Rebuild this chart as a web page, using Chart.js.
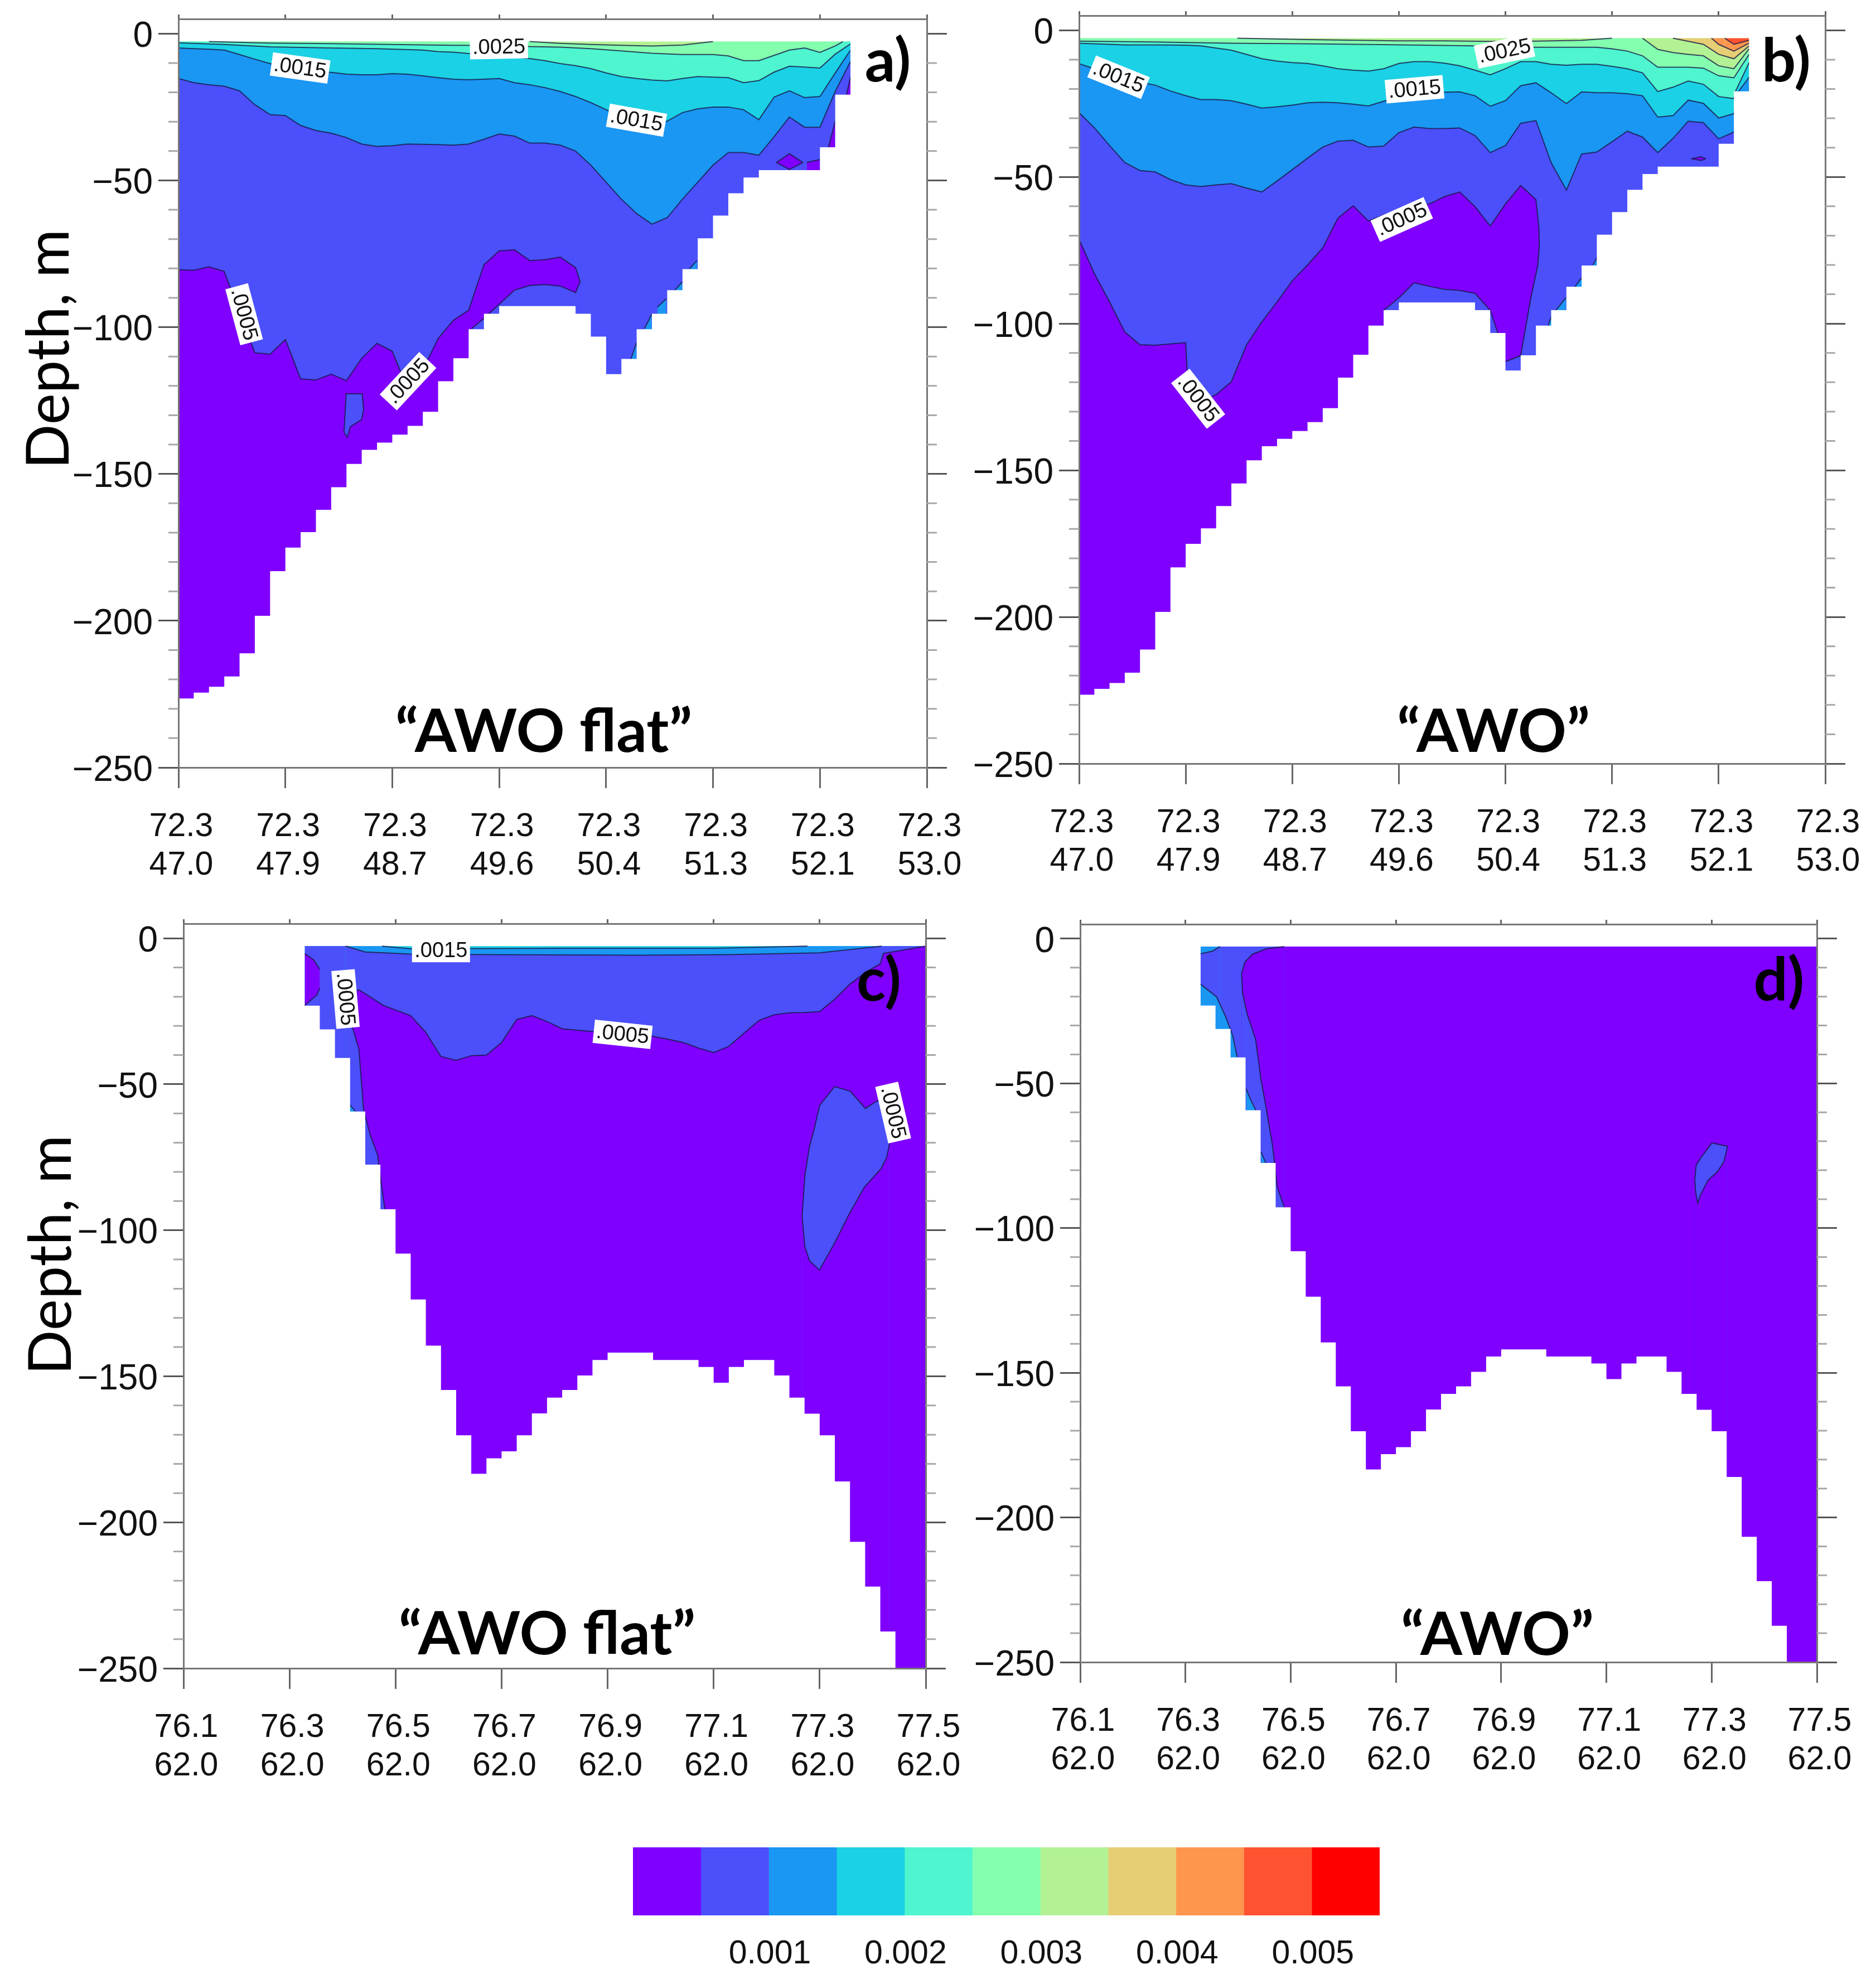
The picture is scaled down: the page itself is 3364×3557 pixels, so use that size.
<!DOCTYPE html>
<html>
<head>
<meta charset="utf-8">
<title>AWO sections</title>
<script src="https://cdn.jsdelivr.net/npm/chart.js@4/dist/chart.umd.js"></script>
<style>
  html, body { margin: 0; background: #fff; }
  #page { position: relative; width: 3364px; height: 3557px; overflow: hidden; background: #fff; }
  canvas { position: absolute; }
  .txt { position: absolute; transform: translate(-50%, -50%); white-space: nowrap; color: #000; font-family: Lato, sans-serif; }
  .txt.bold { font-weight: 700; font-size: 108px; }
  .txt.depth { font-size: 106px; transform: translate(-50%, -50%) rotate(-90deg); }
</style>
</head>
<body>
<div id="page"></div>
<script>
// all depths in metres, x = grid column along the section (49 columns, 7 per labelled tick)
const SURFACE = -2.7;
const bandColors = ["#7f00ff", "#4b50fb", "#1a96f3", "#1bd1e5", "#4ef5cf", "#84ffb0", "#b3f294", "#e5ce74", "#ff964f", "#ff5230", "#ff0000"];

const yMajorTicks = [0, -50, -100, -150, -200, -250];
const yMinorTicks = [-10, -20, -30, -40, -60, -70, -80, -90, -110, -120, -130, -140, -160, -170, -180, -190, -210, -220, -230, -240];
const columnTicks = [0, 7, 14, 21, 28, 35, 42, 49];
const latTicksAB = ["72.3", "72.3", "72.3", "72.3", "72.3", "72.3", "72.3", "72.3"];
const lonTicksAB = ["47.0", "47.9", "48.7", "49.6", "50.4", "51.3", "52.1", "53.0"];
const latTicksCD = ["76.1", "76.3", "76.5", "76.7", "76.9", "77.1", "77.3", "77.5"];
const lonTicksCD = ["62.0", "62.0", "62.0", "62.0", "62.0", "62.0", "62.0", "62.0"];
const colorbarTicks = [0.001, 0.002, 0.003, 0.004, 0.005];
const colorbarBand = 0.0005;

const bathyAB = [-226.5, -224.5, -222.5, -219, -211.1, -198.3, -183.1, -175.1, -169.8, -162.2, -154.5, -146.6, -141.8, -139.3, -136.6, -133.6, -128.8, -118.4, -110.6, -100.7, -95.4, -92.8, -92.8, -92.8, -92.8, -92.8, -95.4, -103.2, -116, -110.8, -100.7, -95.4, -87.4, -80.2, -69.7, -62, -54.4, -49, -46.5, -46.5, -46.5, -46.5, -38.7, -20.8, SURFACE, SURFACE, SURFACE, SURFACE, SURFACE];
const bathyCD = [SURFACE, SURFACE, SURFACE, SURFACE, SURFACE, SURFACE, SURFACE, SURFACE, -23.1, -31.2, -41, -59.3, -77.5, -92.8, -108, -123.7, -139.5, -154.7, -170.2, -183.4, -178.1, -175.7, -170.2, -162.7, -157.3, -154.7, -149.7, -144.4, -141.9, -141.9, -141.9, -144.4, -144.4, -144.4, -146.8, -152.2, -146.8, -144.4, -144.4, -149.7, -157.3, -162.8, -170.2, -186, -206.7, -222, -237.4, -250, -250];

// panel a
const aSurface = [[0, SURFACE], [44, SURFACE]];
const a003 = [[0, SURFACE], [23, SURFACE], [25, -3.3], [27, -3.7], [29, -4], [31, -4.2], [33, -3.9], [35, SURFACE], [44, SURFACE]];
const a0025 = [[0, SURFACE], [2, SURFACE], [6, -3.2], [10, -3.4], [14, -3.7], [18, -4], [20, -4], [23, -4.4], [25, -4.6], [27, -5.1], [29, -5.9], [31, -6.7], [33, -7.1], [35, -7.1], [36, -7.6], [37, -9.2], [38, -9.2], [39, -7.4], [40, -5.6], [41, -4.9], [42, -6.4], [43, -4.2], [43.5, SURFACE], [44, SURFACE]];
const a002 = [[0, -3.1], [3, -3.7], [6, -4.5], [10, -4.9], [13, -5.1], [16, -5.6], [17, -6.1], [18, -6.3], [19, -6.8], [20, -7.3], [21, -7.7], [22, -8], [23, -8.5], [24, -9.2], [25, -10.2], [26, -10.9], [27, -11.9], [28, -13.4], [29, -14.6], [30, -15.3], [31, -15.8], [32, -16.1], [33, -15.3], [34, -14.6], [35, -14.8], [36, -15], [37, -16.7], [38, -16], [39, -13.1], [40, -11.1], [41, -11.4], [42, -11.7], [43, -7], [44, -3.5]];
const a0015 = [[0, -4.9], [1, -5.1], [2, -5.3], [3, -5.6], [4, -7.1], [5, -8.7], [6, -10.2], [7, -11.4], [8, -12.4], [9, -12.9], [10, -13.2], [11, -13.8], [12, -14], [13, -14], [14, -13.6], [15, -13.8], [16, -14.4], [17, -15], [18, -15.5], [19, -15.7], [20, -15.5], [21, -15.3], [22, -16.7], [23, -17.4], [24, -18.4], [25, -19.7], [26, -21.4], [27, -23.5], [28, -25.9], [29, -28.4], [30, -30.8], [31, -31.3], [32, -29.8], [33, -26.9], [34, -25.6], [35, -25], [36, -25], [37, -25.9], [38, -29.3], [39, -21.6], [40, -19.5], [41, -21.8], [42, -21.4], [43, -13.4], [44, -5.6]];
const a001 = [[0, -15.3], [1, -16.7], [2, -17.4], [3, -17.9], [4, -19.5], [5, -24.2], [6, -27.6], [7, -27.9], [8, -31.3], [9, -33], [10, -33.9], [11, -35.4], [12, -37.6], [13, -38.4], [14, -38.2], [15, -37.6], [16, -37.7], [17, -37.8], [18, -38], [19, -37.6], [20, -36], [21, -34.2], [22, -34.9], [23, -37.3], [24, -37.3], [25, -38], [26, -40], [27, -44.8], [28, -50.6], [29, -56.4], [30, -61.3], [31, -64.9], [32, -62.7], [33, -56.4], [34, -50.6], [35, -44.8], [36, -40.5], [37, -40.5], [38, -41.4], [39, -35.1], [40, -28.4], [41, -31.9], [42, -31.9], [43, -19.7], [44, -9.5]];
const a0005 = [[0, -80.4], [1, -80.6], [2, -79.4], [3, -81], [4, -95], [5, -108.7], [6, -109.2], [7, -104.2], [8, -117.6], [9, -118], [10, -116], [11, -118.2], [12, -110.6], [13, -105.5], [14, -108.2], [15, -121], [16, -114.5], [17, -103.9], [18, -97.6], [19, -94.2], [20, -78.7], [21, -74], [22, -73.6], [23, -77.3], [24, -77], [25, -76.1], [26, -79.7], [26.3, -84.5]];
const aLobeUnder = [[19.2, -100.5], [20, -97], [21, -92.2], [22, -87.4], [23, -85.8], [24, -85.5], [25, -86], [26, -88.2], [26.3, -84.5]];
const aPocketTop = [[10.84, -135.8], [10.98, -122.7], [12.03, -122.7], [12.12, -128]];
const aPocketBottom = [[10.84, -135.8], [11.05, -137.5], [11.26, -133.9], [11.99, -131.5], [12.12, -128]];
const aDiamondTop = [[39.15, -43.9], [40, -40.9], [40.88, -43.9]];
const aDiamondBottom = [[39.15, -43.9], [40, -46.3], [40.88, -43.9]];
const aPatches = [[[41.14, -43.9], [42, -42.9]], [[42.56, -38.7], [43, -29.8]], [[43.74, -20.8], [44, -14.8]]];
const aSlivers = [[[29.63, -110.8], [29.99, -105.3]], [[30.51, -100.5], [30.99, -95.6]], [[31.35, -93.2], [31.94, -90.3]], [[32.5, -87.4], [33, -84.5]], [[33.45, -80.2], [33.95, -77.3]]];

// panel b
const bSurface = [[0, SURFACE], [44, SURFACE]];
const bRedCap = [[42.4, SURFACE], [44, SURFACE]];
const b0045 = [[41.53, SURFACE], [42.4, SURFACE], [43, -4.8], [44, -3.4]];
const b004 = [[39, SURFACE], [41.53, SURFACE], [42, -4.8], [43, -7.1], [44, -4.4]];
const b0035 = [[37, SURFACE], [39, SURFACE], [41, -4.8], [42, -8.2], [43, -9.7], [44, -5.3]];
const b003 = [[0, SURFACE], [10.4, SURFACE], [15, -3.2], [21, -3.6], [24, -3.6], [27, -3.8], [30, -3.7], [33, -3.4], [35, SURFACE], [37, SURFACE], [38, -6.5], [39, -7.6], [40, -8.2], [41, -8.7], [42, -12.1], [43, -13.1], [44, -6.3]];
const b0025 = [[0, -3.7], [5, -4], [10, -4.4], [15, -4.6], [20, -4.9], [26, -5.3], [30, -5.8], [33, -5.8], [34, -5.8], [35, -6.3], [36, -7.1], [37, -8.7], [38, -12.6], [39, -12.6], [40, -12.6], [41, -12.9], [42, -15.5], [43, -16.2], [44, -8.2]];
const b002 = [[0, -4.4], [3, -5], [5, -5], [7, -5.1], [8, -5.3], [10, -6.8], [11, -8.2], [12, -9.7], [13, -10.5], [14, -11], [15, -11.3], [16, -12.1], [17, -13.1], [18, -13.6], [19, -13.9], [20, -13.1], [21, -11.3], [22, -10.7], [23, -10.7], [24, -11.2], [25, -12.1], [26, -13.6], [27, -15.2], [28, -13.1], [29, -10.7], [30, -10.7], [31, -11.6], [32, -11.9], [33, -11.6], [34, -11.6], [35, -12.3], [36, -13.1], [37, -14.5], [38, -20.9], [39, -19.4], [40, -17.3], [41, -18.4], [42, -22.6], [43, -23.3], [43.1, -20.9], [44, -11]];
const b0015 = [[0, -11.4], [1, -13.1], [2, -15.5], [3, -17], [4, -17.7], [5, -18.7], [6, -20.7], [7, -22.3], [8, -23.6], [9, -23.6], [10, -24], [11, -25.2], [12, -26.5], [13, -26.1], [14, -25.5], [15, -24.7], [16, -24.5], [17, -24.7], [18, -25.2], [19, -25.8], [20, -24.2], [21, -22.8], [22, -21.3], [23, -21.3], [24, -21.1], [25, -21], [26, -22.3], [27, -25.9], [28, -24], [29, -18.9], [30, -17.9], [31, -21.3], [32, -25], [33, -21], [34, -21.3], [35, -21.3], [36, -21.6], [37, -22.3], [38, -29.6], [39, -29.1], [40, -23.8], [41, -24.9], [42, -29.9], [43, -28.4], [43.3, -20.9], [44, -16]];
const b001 = [[0, -28.1], [1, -33.2], [2, -39.3], [3, -45.1], [4, -47.8], [5, -48.3], [6, -50.9], [7, -52.7], [8, -53.3], [9, -52.7], [10, -52.3], [11, -53.8], [12, -55.1], [13, -51.4], [14, -47.5], [15, -43.6], [16, -39.8], [17, -37.8], [18, -37.5], [19, -39.8], [20, -39.5], [21, -34.9], [22, -33], [23, -33.5], [24, -33.5], [25, -33.3], [26, -35.9], [27, -41.7], [28, -39.3], [29, -31.7], [30, -30.8], [31, -45.1], [32, -54.5], [33, -42.2], [34, -41.5], [35, -38], [36, -34.4], [37, -36.4], [38, -41.7], [39, -36.9], [40, -31], [41, -31.5], [42, -37], [43, -34.7], [44, -34.7]];
const b0005 = [[0, -71.3], [1, -82.9], [2, -92.6], [3, -102.8], [4, -107.2], [5, -107.4], [6, -106.9], [7, -106.5], [7.1, -116.9], [8, -123.7], [8.67, -125], [9, -124.2], [10, -119.8], [11, -107.2], [12, -99.4], [13, -92.6], [14, -85.4], [15, -80], [16, -74.2], [17, -64], [18, -59.8], [19, -65], [20, -63], [21, -61.1], [22, -60.1], [23, -59.2], [24, -56.7], [25, -55.1], [26, -60.1], [27, -66.7], [28, -59.2], [29, -52.9], [30, -57.7], [30.2, -67.4], [30.22, -73.2]];
const bLobeUnder = [[20, -95.5], [21, -91.2], [22, -86.1], [23, -87.3], [24, -88.3], [25, -88.7], [26, -89.7], [27, -95.5], [27.5, -103.3]];
const bRightUnder = [[28, -113], [29, -110.9], [29.65, -91.7], [30.13, -80], [30.22, -73.2]];
const bLensTop = [[40.2, -43.8], [40.85, -43.1], [41.15, -43.8]];
const bLensBottom = [[40.2, -43.8], [40.85, -44.4], [41.15, -43.8]];
const bSlivers = [[[30.79, -100.9], [31.02, -97.5]], [[31.32, -95.4], [31.97, -91.2]], [[32.54, -87.6], [33, -84.4]], [[33.74, -80], [34, -77.6]]];

// panel c
const cSurface = [[8, SURFACE], [49, SURFACE]];
const c0015 = [[8, SURFACE], [13.1, SURFACE], [15, -3.6], [25, -3.4], [35, -3.4], [41.2, SURFACE], [49, SURFACE]];
const c001 = [[8, SURFACE], [10.7, SURFACE], [12, -4.7], [15, -5.4], [20, -5.6], [30, -5.8], [36, -5.6], [42, -5], [46.1, SURFACE], [49, SURFACE]];
const cLensTop = [[8, -5.2], [8.6, -7.4], [9, -10.6]];
const cLensBottom = [[8, -23], [8.8, -19.5], [9, -17]];
const c0005 = [[10.7, -20.1], [11.58, -17.6], [13.2, -23], [15, -26.5], [16, -32.2], [17, -40.5], [18, -41.8], [19, -40.2], [20, -40], [21, -35.7], [22, -27.8], [23, -26.5], [24, -28.5], [25, -31], [26, -31.5], [27, -31.9], [28, -32.4], [29, -32.7], [30, -33.2], [31, -33.6], [32, -34.6], [33, -35.7], [34, -37.6], [35, -39.1], [36, -37], [37, -32.5], [38, -28.1], [39, -26.2], [40, -25.5], [41, -25.4], [42, -25.1], [43, -20.8], [44, -15.7], [45, -11.8], [46, -8.7], [46.2, -5.2], [47, -4.5], [48, -3.6], [49, SURFACE]];
const cLeftUnder = [[10.7, -20.1], [11.14, -30.3], [11.58, -38], [11.88, -58.3], [12.32, -67.3], [12.82, -74.3], [13.05, -83.8], [13.3, -93]];
const cIslandTop = [[40.84, -95.1], [41.02, -81.4], [41.33, -71.2], [41.63, -65.5], [42, -57.2], [42.98, -50.8], [44.03, -52.4], [45.01, -58.3], [45.81, -55.6], [46.3, -58], [46.6, -70.6]];
const cIslandBottom = [[40.84, -95.1], [41.02, -105.6], [41.33, -110.4], [41.98, -113.6], [42.98, -104.4], [43.97, -94.2], [44.95, -85.2], [46.05, -78.9], [46.42, -75], [46.6, -70.6]];
const cSlivers = [[[10.94, -56.8], [11.35, -59.3]]];

// panel d
const dSurface = [[8, SURFACE], [49, SURFACE]];
const d001 = [[8, -5.2], [8.8, -4.3], [9.3, SURFACE], [49, SURFACE]];
const d0005 = [[10.73, -12], [10.96, -8], [11.44, -5.4], [12.38, -3.5], [13.57, SURFACE], [49, SURFACE]];
const dLeftUnder = [[10.73, -12], [10.8, -18.7], [11.1, -26], [11.67, -34.9], [12.03, -48.9], [12.34, -57.7], [12.8, -71.8], [13.1, -85.8], [13.57, -92.8]];
const dIslandTop = [[40.88, -83.4], [40.97, -78.3], [41.28, -75.7], [42.02, -70.6], [43.05, -71.7]];
const dIslandBottom = [[40.88, -83.4], [40.93, -87.3], [41.07, -91.4], [41.28, -88.2], [41.77, -83.4], [42.39, -80.5], [42.82, -77], [43.05, -71.7]];
const dSlivers = [[[8, -15.7], [9.07, -20.1], [9.66, -26.8], [10.14, -33.4], [10.44, -40.9]], [[11.03, -51.8], [11.32, -55.5], [11.67, -59.2]], [[12.03, -73.6], [12.34, -77.5]]];

// contour labels: text, column, depth, rotation
const aLabels = [[".0015", 7.97, -11.7, 8], [".0025", 20.98, -4.6, -1], [".0015", 29.99, -29.5, 10], [".0005", 4.3, -95.6, 75], [".0005", 15.03, -118.4, -47]];
const bLabels = [[".0015", 2.59, -16, 22], [".0015", 22.03, -20.1, -5], [".0005", 21.19, -64.5, -24], [".0005", 7.82, -125.6, 52], [".0025", 27.94, -7.1, -12]];
const cLabels = [[".0015", 17, -4.2, 0], [".0005", 10.7, -20.8, 85], [".0005", 28.99, -32.9, 6], [".0005", 46.85, -59.7, 77]];
const dLabels = [];

function fillLayer(points, band, stroke = true) {
  return { points, band, stroke };
}

function maskDataset(bathy) {
  const data = bathy.map((v, i) => ({ x: i, y: v }));
  data.push({ x: bathy.length, y: bathy[bathy.length - 1] });
  return {
    data,
    stepped: true,
    borderWidth: 0,
    borderColor: "transparent",
    backgroundColor: "#fff",
    fill: { value: -250 },
    pointRadius: 0
  };
}

function layerDataset(l) {
  return {
    data: l.points.map(p => ({ x: p[0], y: p[1] })),
    borderColor: l.stroke ? "rgba(25,25,70,0.8)" : "transparent",
    borderWidth: l.stroke ? 2 : 0,
    backgroundColor: bandColors[l.band],
    fill: { value: -250 },
    pointRadius: 0,
    tension: 0,
    segment: {
      // the part of a contour that lies on the sea surface is not a real line
      borderColor: c => (c.p0.parsed.y === SURFACE && c.p1.parsed.y === SURFACE ? "transparent" : undefined)
    }
  };
}

const minorTicksPlugin = {
  id: "minorTicks",
  afterDraw(chart) {
    const { ctx, chartArea, scales } = chart;
    ctx.save();
    ctx.strokeStyle = "#a8a8a8";
    ctx.lineWidth = 3;
    yMinorTicks.forEach(v => {
      const py = scales.y.getPixelForValue(v);
      ctx.beginPath();
      ctx.moveTo(chartArea.left - 18, py);
      ctx.lineTo(chartArea.left, py);
      ctx.moveTo(chartArea.right, py);
      ctx.lineTo(chartArea.right + 18, py);
      ctx.stroke();
    });
    ctx.restore();
  }
};

const contourLabelsPlugin = {
  id: "contourLabels",
  afterDatasetsDraw(chart, args, opts) {
    const { ctx, scales } = chart;
    (opts.items || []).forEach(([text, col, depth, rot]) => {
      ctx.save();
      ctx.translate(scales.x.getPixelForValue(col), scales.y.getPixelForValue(depth));
      ctx.rotate(rot * Math.PI / 180);
      ctx.fillStyle = "#fff";
      ctx.fillRect(-52, -21, 104, 42);
      ctx.fillStyle = "#111";
      ctx.font = "38px 'Liberation Sans'";
      ctx.textAlign = "center";
      ctx.textBaseline = "middle";
      ctx.fillText(text, 0, 1);
      ctx.restore();
    });
  }
};

function drawPanel(area, layers, bathy, labels, topTicks, bottomTicks) {
  const padLeft = 310, padRight = 110, padTop = 70, padBottom = 210;
  const canvas = document.createElement("canvas");
  canvas.width = area.right - area.left + padLeft + padRight;
  canvas.height = area.bottom - area.top + padTop + padBottom;
  canvas.style.left = (area.left - padLeft) + "px";
  canvas.style.top = (area.top - padTop) + "px";
  document.getElementById("page").appendChild(canvas);

  // painted from the surface down, Chart.js draws the first dataset last
  const datasets = layers.map(layerDataset);
  datasets.push(maskDataset(bathy));
  datasets.reverse();

  const frame = { display: true, color: "#767676", width: 3, z: 2 };
  const xTicks = s => { s.ticks = columnTicks.map(v => ({ value: v })); };
  const yTicks = s => { s.ticks = yMajorTicks.map(v => ({ value: v })); };

  new Chart(canvas, {
    type: "line",
    data: { datasets },
    options: {
      responsive: false,
      animation: false,
      devicePixelRatio: 1,
      layout: { padding: 0 },
      plugins: {
        legend: { display: false },
        tooltip: { enabled: false },
        contourLabels: { items: labels }
      },
      scales: {
        x: {
          type: "linear", min: 0, max: 49,
          afterBuildTicks: xTicks,
          afterFit: s => { s.height = padBottom; },
          border: frame,
          grid: { drawOnChartArea: false, tickLength: 37, tickColor: "#666", tickWidth: 3 },
          ticks: {
            autoSkip: false, maxRotation: 0, padding: 36, labelOffset: 5, color: "#111",
            font: { family: "Liberation Sans", size: 59, lineHeight: 1.16 },
            callback: (v, i) => [topTicks[i], bottomTicks[i]]
          }
        },
        xTop: {
          axis: "x", type: "linear", position: "top", min: 0, max: 49,
          afterBuildTicks: xTicks,
          afterFit: s => { s.height = padTop; },
          border: frame,
          grid: { drawOnChartArea: false, tickLength: 8, tickColor: "#666", tickWidth: 3 },
          ticks: { display: false }
        },
        y: {
          type: "linear", min: -250, max: 5,
          afterBuildTicks: yTicks,
          afterFit: s => { s.width = padLeft; },
          border: frame,
          grid: { drawOnChartArea: false, tickLength: 36, tickColor: "#555", tickWidth: 3 },
          ticks: {
            padding: 10, labelOffset: 6, color: "#111",
            font: { family: "Liberation Sans", size: 64 },
            callback: v => String(v).replace("-", "\u2212")
          }
        },
        yRight: {
          axis: "y", type: "linear", position: "right", min: -250, max: 5,
          afterBuildTicks: yTicks,
          afterFit: s => { s.width = padRight; },
          border: frame,
          grid: { drawOnChartArea: false, tickLength: 36, tickColor: "#555", tickWidth: 3 },
          ticks: { display: false }
        }
      }
    },
    plugins: [minorTicksPlugin, contourLabelsPlugin]
  });
}

function drawColorbar() {
  const left = 1135, right = 2474, top = 3312, bottom = 3434;
  const canvas = document.createElement("canvas");
  canvas.width = right - left + 200;
  canvas.height = bottom - top + 120;
  canvas.style.left = (left - 100) + "px";
  canvas.style.top = (top - 10) + "px";
  document.getElementById("page").appendChild(canvas);

  new Chart(canvas, {
    type: "bar",
    data: {
      labels: [""],
      datasets: bandColors.map(color => ({
        data: [colorbarBand],
        backgroundColor: color,
        borderColor: "rgba(0,0,0,0.45)",
        borderWidth: { left: 2, right: 0, top: 0, bottom: 0 },
        barPercentage: 1,
        categoryPercentage: 1
      }))
    },
    options: {
      indexAxis: "y",
      responsive: false,
      animation: false,
      devicePixelRatio: 1,
      layout: { padding: { left: 100, right: 100, top: 10 } },
      plugins: { legend: { display: false }, tooltip: { enabled: false } },
      scales: {
        x: {
          stacked: true, min: 0, max: colorbarBand * bandColors.length,
          afterBuildTicks: s => { s.ticks = colorbarTicks.map(v => ({ value: v })); },
          afterFit: s => { s.height = 110; },
          border: { display: false },
          grid: { display: false },
          ticks: {
            autoSkip: false, maxRotation: 0, padding: 26, labelOffset: 2, color: "#111",
            font: { family: "Liberation Sans", size: 59 },
            callback: v => v.toFixed(3)
          }
        },
        y: { stacked: true, display: false }
      }
    }
  });
}

drawPanel({ left: 320, right: 1662, top: 34, bottom: 1376 }, [
  fillLayer(aSurface, 6, false), fillLayer(a003, 5), fillLayer(a0025, 4), fillLayer(a002, 3), fillLayer(a0015, 2), fillLayer(a001, 1),
  fillLayer(a0005, 0), fillLayer(aLobeUnder, 1), fillLayer(aPocketTop, 1), fillLayer(aPocketBottom, 0),
  fillLayer(aDiamondTop, 0), fillLayer(aDiamondBottom, 1),
  ...aPatches.map(p => fillLayer(p, 0)), ...aSlivers.map(p => fillLayer(p, 2))
], bathyAB, aLabels, latTicksAB, lonTicksAB);

drawPanel({ left: 1935, right: 3273, top: 28, bottom: 1369 }, [
  fillLayer(bSurface, 6, false), fillLayer(bRedCap, 9, false), fillLayer(b0045, 8), fillLayer(b004, 7), fillLayer(b0035, 6),
  fillLayer(b003, 5), fillLayer(b0025, 4), fillLayer(b002, 3), fillLayer(b0015, 2), fillLayer(b001, 1),
  fillLayer(b0005, 0), fillLayer(bLobeUnder, 1), fillLayer(bRightUnder, 1), fillLayer(bLensTop, 0), fillLayer(bLensBottom, 1),
  ...bSlivers.map(p => fillLayer(p, 2))
], bathyAB, bLabels, latTicksAB, lonTicksAB);

drawPanel({ left: 329, right: 1660, top: 1656, bottom: 2991 }, [
  fillLayer(cSurface, 3, false), fillLayer(c0015, 2), fillLayer(c001, 1), fillLayer(cLensTop, 0), fillLayer(cLensBottom, 1),
  fillLayer(c0005, 0), fillLayer(cLeftUnder, 1), ...cSlivers.map(p => fillLayer(p, 2)),
  fillLayer(cIslandTop, 1), fillLayer(cIslandBottom, 0)
], bathyCD, cLabels, latTicksCD, lonTicksCD);

drawPanel({ left: 1937, right: 3258, top: 1657, bottom: 2980 }, [
  fillLayer(dSurface, 2, false), fillLayer(d001, 1), fillLayer(d0005, 0), fillLayer(dLeftUnder, 1),
  ...dSlivers.map(p => fillLayer(p, 2)), fillLayer(dIslandTop, 1), fillLayer(dIslandBottom, 0)
], bathyCD, dLabels, latTicksCD, lonTicksCD);

drawColorbar();

const pageTexts = [
  ["bold", "\u201CAWO flat\u201D", 975, 1306],
  ["bold", "\u201CAWO\u201D", 2678, 1306],
  ["bold", "\u201CAWO flat\u201D", 981, 2924],
  ["bold", "\u201CAWO\u201D", 2685, 2925],
  ["bold", "a)", 1592, 104],
  ["bold", "b)", 3203, 104],
  ["bold", "c)", 1576, 1752],
  ["bold", "d)", 3190, 1752],
  ["depth", "Depth, m", 82, 626],
  ["depth", "Depth, m", 86, 2250]
];
pageTexts.forEach(([kind, text, x, y]) => {
  const el = document.createElement("div");
  el.className = "txt " + kind;
  el.textContent = text;
  el.style.left = x + "px";
  el.style.top = y + "px";
  document.getElementById("page").appendChild(el);
});
</script>
</body>
</html>
